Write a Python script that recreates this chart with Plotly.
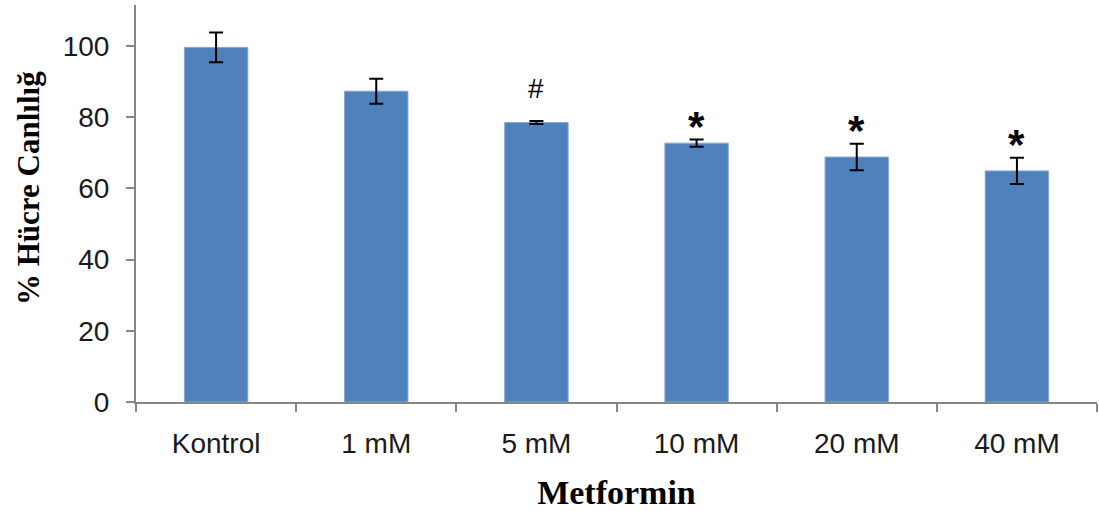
import plotly.graph_objects as go

categories = ["Kontrol", "1 mM", "5 mM", "10 mM", "20 mM", "40 mM"]
viability = [99.6, 87.3, 78.5, 72.7, 68.8, 64.9]
errors = [4.2, 3.5, 0.4, 1.0, 3.7, 3.7]
marks = ["", "", "#", "*", "*", "*"]

fig = go.Figure()
fig.add_trace(go.Bar(
    x=categories, y=viability,
    marker=dict(color="#4F81BD", line=dict(color="#8CA9D3", width=1)),
    width=0.396,
    error_y=dict(type="data", array=errors, visible=True, color="#000000",
                 thickness=2, width=7),
    showlegend=False,
))

for c, v, e, m in zip(categories, viability, errors, marks):
    if not m:
        continue
    if m == "#":
        fig.add_annotation(x=c, y=v + e, text=m, showarrow=False, yanchor="bottom",
                           yshift=15, font=dict(family="Arial", size=28, color="#000000"))
    else:
        fig.add_annotation(x=c, y=v + e, text="<b>*</b>", showarrow=False, yanchor="bottom",
                           yshift=-12, font=dict(family="Arial", size=42, color="#000000"))

fig.add_annotation(text="<b>% Hücre Canlılığ</b>", textangle=-90, showarrow=False,
                   xref="paper", yref="paper", x=0, y=0.539, xanchor="center", yanchor="middle",
                   xshift=-108,
                   font=dict(family="Times New Roman, Liberation Serif, serif", size=31, color="#000000"))

fig.update_layout(
    width=1099, height=511,
    margin=dict(l=136, r=2, t=5, b=109),
    plot_bgcolor="white", paper_bgcolor="white",
    bargap=0.604,
    font=dict(family="Arial", size=28, color="#1a1a1a"),
)
fig.update_xaxes(
    type="category", tickson="boundaries", ticks="outside", ticklen=8,
    tickcolor="#868686", tickwidth=2, showline=True, linecolor="#868686", linewidth=2,
    range=[-0.5, 5.5], ticklabelstandoff=15, automargin=False,
    tickfont=dict(family="Arial", size=28, color="#1a1a1a"),
    title=dict(text="<b>Metformin</b>", font=dict(family="Times New Roman, Liberation Serif, serif", size=34, color="#000000"), standoff=23),
)
fig.update_yaxes(
    range=[0, 111.5], tickvals=[0, 20, 40, 60, 80, 100], ticks="outside", ticklen=8,
    tickcolor="#868686", tickwidth=2, showline=True, linecolor="#868686", linewidth=2,
    showgrid=False, zeroline=False, ticklabelstandoff=11, automargin=False,
    tickfont=dict(family="Arial", size=28, color="#1a1a1a"),
)

fig.write_html("out.html", config={"displayModeBar": False},
               post_script="document.body.style.margin='0';")
